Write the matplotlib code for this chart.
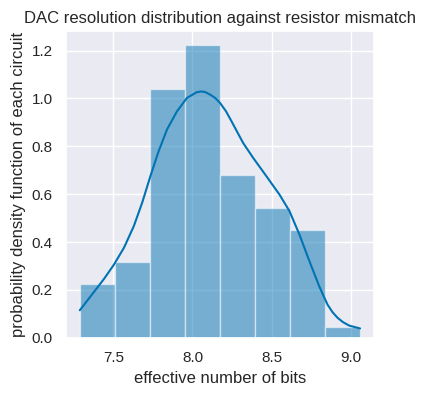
import matplotlib
matplotlib.use('Agg')
import matplotlib.pyplot as plt
import numpy as np
import seaborn as sns

# histogram: 100 circuits, 8 bins
bin_edges = np.linspace(7.290, 9.059, 9)
counts = [5, 7, 23, 27, 15, 12, 10, 1]
n_total = 100

# kde curve, points
kde_x = [7.288, 7.357, 7.441, 7.504, 7.567, 7.629, 7.682, 7.734, 7.786, 7.839,
         7.902, 7.965, 8.027, 8.055, 8.079, 8.111, 8.145, 8.174, 8.212, 8.247,
         8.285, 8.320, 8.383, 8.467, 8.550, 8.613, 8.676, 8.739, 8.801, 8.853,
         8.885, 8.916, 8.952, 8.990, 9.059]
kde_y = [0.115, 0.174, 0.246, 0.306, 0.376, 0.466, 0.564, 0.675, 0.779, 0.870,
         0.946, 1.002, 1.026, 1.029, 1.027, 1.016, 1.001, 0.981, 0.946, 0.904,
         0.857, 0.814, 0.752, 0.675, 0.598, 0.529, 0.431, 0.320, 0.215, 0.139,
         0.107, 0.084, 0.065, 0.051, 0.039]

sns.set_theme()
plt.rcParams['font.family'] = ['Liberation Sans', 'DejaVu Sans']
color = sns.color_palette('colorblind')[0]

fig, ax = plt.subplots(figsize=(4.25, 3.96), dpi=100)
fig.subplots_adjust(left=0.155, right=0.88, bottom=0.147, top=0.922)

widths = np.diff(bin_edges)
density = np.array(counts) / (n_total * widths)
ax.bar(bin_edges[:-1], density, width=widths, align='edge', color=color,
       alpha=0.5, edgecolor='white', linewidth=1)
ax.plot(kde_x, kde_y, color=color, lw=1.5)

ax.set_xlim(7.20, 9.147)
ax.set_ylim(0, 1.282)
ax.set_xticks([7.5, 8.0, 8.5, 9.0])
ax.set_title('DAC resolution distribution against resistor mismatch')
ax.set_xlabel('effective number of bits')
ax.set_ylabel('probability density function of each circuit')

fig.savefig('out.png', dpi=100)
